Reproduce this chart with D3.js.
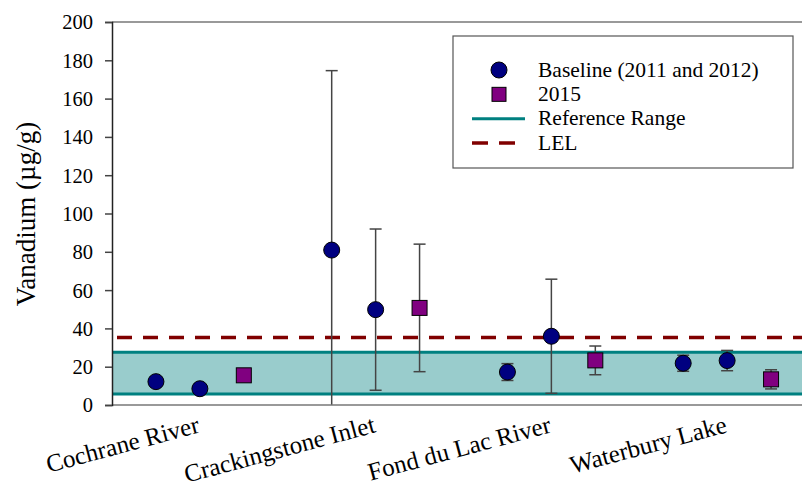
<!DOCTYPE html>
<html><head><meta charset="utf-8">
<script src="https://cdn.jsdelivr.net/npm/d3@7"></script>
<style>body{margin:0;background:#fff}svg{display:block}text{font-family:"Liberation Serif","Times New Roman",serif;fill:#000}</style>
</head><body><svg id="c" width="802" height="482"></svg>
<script>
const categories = ["Cochrane River","Crackingstone Inlet","Fond du Lac River","Waterbury Lake"];
const baselineSite = [0,0,1,1,2,2,3,3];
const baselineSlot = [0,1,0,1,0,1,0,1];
const baselineMean = [12.2, 8.5, 80.9, 49.8, 17.2, 35.9, 21.8, 23.2];
const baselineErr  = [0, 0, 93.7, 42.1, 4.4, 29.8, 4.2, 5.3];
const y2015Site = [0,1,2,3];
const y2015Mean = [15.5, 50.7, 23.3, 13.4];
const y2015Err  = [0, 33.3, 7.5, 5.0];
const refLow = 5.7, refHigh = 27.5, lel = 35.2;
const yTicks = [0,20,40,60,80,100,120,140,160,180,200];
const legendLabels = ["Baseline (2011 and 2012)","2015","Reference Range","LEL"];

const svg = d3.select("#c");
const L = 112, R = 815, T = 22, B = 405;
const x = d3.scaleBand().domain(categories).range([L, R]);
const slot = d3.scalePoint().domain([0,1,2]).range([0.25,0.75]);
const xp = (site, s) => x(categories[site]) + x.bandwidth()*slot(s);
const y = d3.scaleLinear().domain([0,200]).range([B, T]);

svg.append("defs").append("clipPath").attr("id","clip").append("rect")
  .attr("x",L).attr("y",T).attr("width",R-L).attr("height",B-T);
const plot = svg.append("g").attr("clip-path","url(#clip)");

// reference band
plot.append("rect").attr("x",L).attr("width",R-L)
  .attr("y",y(refHigh)).attr("height",y(refLow)-y(refHigh)).attr("fill","#99cccc");
[refLow, refHigh].forEach(v => plot.append("line").attr("x1",L).attr("x2",R)
  .attr("y1",y(v)).attr("y2",y(v)).attr("stroke","#008080").attr("stroke-width",3));
plot.append("line").attr("x1",L).attr("x2",R).attr("y1",y(lel)).attr("y2",y(lel))
  .attr("stroke","#800000").attr("stroke-width",3.5).attr("stroke-dasharray","15,11").attr("stroke-dashoffset",-5);

// error bars
function errBars(sites, slots, means, errs){
  const g = plot.append("g").attr("stroke","#444").attr("stroke-width",1.5);
  means.forEach((m,i) => {
    if(!errs[i]) return;
    const cx = xp(sites[i], slots[i]);
    g.append("line").attr("x1",cx).attr("x2",cx).attr("y1",y(m+errs[i])).attr("y2",y(m-errs[i]));
    [m+errs[i], m-errs[i]].forEach(v => g.append("line").attr("x1",cx-6).attr("x2",cx+6).attr("y1",y(v)).attr("y2",y(v)));
  });
}
errBars(baselineSite, baselineSlot, baselineMean, baselineErr);
errBars(y2015Site, y2015Site.map(()=>2), y2015Mean, y2015Err);

// markers
plot.selectAll("circle.b").data(baselineMean).join("circle")
  .attr("cx",(d,i)=>xp(baselineSite[i],baselineSlot[i])).attr("cy",d=>y(d)).attr("r",8)
  .attr("fill","#000080").attr("stroke","#000").attr("stroke-width",1);
plot.selectAll("rect.s").data(y2015Mean).join("rect")
  .attr("x",(d,i)=>xp(y2015Site[i],2)-7.5).attr("y",d=>y(d)-7.5).attr("width",15).attr("height",15)
  .attr("fill","#800080").attr("stroke","#000").attr("stroke-width",1);

// frame lines
svg.append("line").attr("x1",L).attr("x2",R).attr("y1",T).attr("y2",T).attr("stroke","#777").attr("stroke-width",1.5);
svg.append("line").attr("x1",L).attr("x2",R).attr("y1",B).attr("y2",B).attr("stroke","#777").attr("stroke-width",1.5);

// y axis
const ya = svg.append("g").attr("transform",`translate(${L},0)`)
  .call(d3.axisLeft(y).tickValues(yTicks).tickSize(7).tickPadding(12).tickFormat(d3.format("d")));
ya.select(".domain").attr("stroke","#222").attr("stroke-width",1.5);
ya.selectAll(".tick line").attr("stroke","#444").attr("stroke-width",1.5);
ya.selectAll(".tick text").attr("font-family",null).attr("dy","0.34em").style("font-size","20.5px");
ya.attr("font-family",null);

svg.append("text").attr("transform","translate(35,214) rotate(-90)").attr("text-anchor","middle")
  .style("font-size","27px").text("Vanadium (µg/g)");

// x labels
svg.selectAll("text.xl").data(categories).join("text").attr("class","xl")
  .attr("text-anchor","end")
  .attr("transform",d=>`translate(${x(d)+x.bandwidth()/2+1},432) rotate(-15)`)
  .style("font-size","25px").text(d=>d);

// legend
const lg = svg.append("g");
lg.append("rect").attr("x",453).attr("y",36).attr("width",340).attr("height",132)
  .attr("fill","#fff").attr("stroke","#555").attr("stroke-width",1.2);
const ly = d3.scalePoint().domain(legendLabels).range([70,143]);
lg.append("circle").attr("cx",499).attr("cy",ly(legendLabels[0])).attr("r",8).attr("fill","#000080").attr("stroke","#000");
lg.append("rect").attr("x",492).attr("y",ly(legendLabels[1])-7).attr("width",14).attr("height",14).attr("fill","#800080").attr("stroke","#000");
lg.append("line").attr("x1",472).attr("x2",525).attr("y1",ly(legendLabels[2])).attr("y2",ly(legendLabels[2])).attr("stroke","#008080").attr("stroke-width",3);
lg.append("line").attr("x1",472).attr("x2",526).attr("y1",ly(legendLabels[3])).attr("y2",ly(legendLabels[3])).attr("stroke","#800000").attr("stroke-width",3.5).attr("stroke-dasharray","16,11");
lg.selectAll("text").data(legendLabels).join("text").attr("x",538).attr("y",d=>ly(d)).attr("dy","0.31em")
  .style("font-size","21.5px").text(d=>d);
</script></body></html>
